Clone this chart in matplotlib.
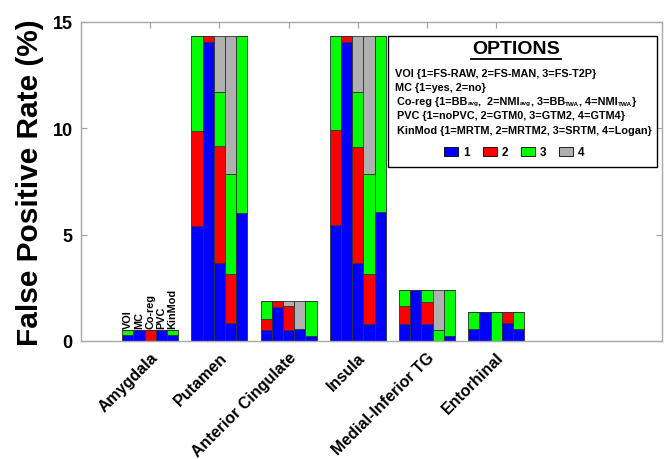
import matplotlib
matplotlib.use("Agg")
import matplotlib.pyplot as plt
import numpy as np
from matplotlib.patches import Rectangle

plt.rcParams['font.family'] = ['Liberation Sans', 'DejaVu Sans']
plt.rcParams['font.weight'] = 'bold'

regions = ["Amygdala", "Putamen", "Anterior Cingulate", "Insula",
           "Medial-Inferior TG", "Entorhinal"]
factors = ["VOI", "MC", "Co-reg", "PVC", "KinMod"]
option_labels = ["1", "2", "3", "4"]
option_colors = ["#0000FF", "#FF0000", "#00FF00", "#B0B0B0"]
yticks = [0, 5, 10, 15]

# rows: regions, columns: factors (VOI, MC, Co-reg, PVC, KinMod)
opt1 = [[0.28, 0.52, 0.00, 0.52, 0.28],
        [5.39, 14.04, 3.65, 0.83, 6.00],
        [0.53, 1.61, 0.53, 0.56, 0.25],
        [5.45, 14.07, 3.65, 0.80, 6.05],
        [0.80, 2.40, 0.80, 0.00, 0.25],
        [0.56, 1.38, 0.00, 0.83, 0.56]]
opt2 = [[0.00, 0.00, 0.52, 0.00, 0.00],
        [4.47, 0.29, 5.50, 2.30, 0.00],
        [0.50, 0.27, 1.10, 0.00, 0.00],
        [4.47, 0.26, 5.45, 2.33, 0.00],
        [0.83, 0.00, 1.05, 0.00, 0.00],
        [0.00, 0.00, 0.00, 0.55, 0.00]]
opt3 = [[0.24, 0.00, 0.00, 0.00, 0.24],
        [4.47, 0.00, 2.57, 4.71, 8.33],
        [0.85, 0.00, 0.00, 0.00, 1.63],
        [4.41, 0.00, 2.62, 4.71, 8.28],
        [0.77, 0.00, 0.55, 0.53, 2.15],
        [0.82, 0.00, 1.38, 0.00, 0.82]]
opt4 = [[0.00, 0.00, 0.00, 0.00, 0.00],
        [0.00, 0.00, 2.61, 6.49, 0.00],
        [0.00, 0.00, 0.25, 1.32, 0.00],
        [0.00, 0.00, 2.61, 6.49, 0.00],
        [0.00, 0.00, 0.00, 1.87, 0.00],
        [0.00, 0.00, 0.00, 0.00, 0.00]]

W, H = 671, 460
fig = plt.figure(figsize=(W / 100, H / 100), dpi=100)
ax = fig.add_axes([81 / W, 1 - 342 / H, (662 - 81) / W, (342 - 23) / H])

nf = len(factors)
group_w = 0.81
bw = group_w / nf
centers = np.arange(1, len(regions) + 1)
opts = [np.array(opt1), np.array(opt2), np.array(opt3), np.array(opt4)]

for j in range(nf):
    xs = centers - group_w / 2 + bw * (j + 0.5)
    bottom = np.zeros(len(regions))
    for k, o in enumerate(opts):
        vals = o[:, j]
        ax.bar(xs, vals, width=bw, bottom=bottom, color=option_colors[k],
               edgecolor='#303030', linewidth=0.6, zorder=2)
        bottom = bottom + vals
    # factor labels above first group
    ax.text(xs[0], bottom[0] + 0.08, factors[j], rotation=90, ha='center',
            va='bottom', fontsize=7.8, fontweight='bold')

ax.set_xlim(0, (662 - 81) / 69.2)
ax.set_ylim(0, 15)
ax.set_xticks(centers)
ax.set_xticklabels(regions, rotation=45, ha='right', rotation_mode='anchor',
                   fontsize=11.5, fontweight='bold')
ax.set_yticks(yticks)
ax.set_yticklabels([str(v) for v in yticks], fontsize=13, fontweight='bold')
ax.tick_params(axis='x', direction='in', color='#A0A0A0', top=True,
               length=4, pad=6)
ax.tick_params(axis='y', direction='in', color='#A0A0A0', right=True,
               length=4, pad=6)
for s in ax.spines.values():
    s.set_color('#A8A8A8')
    s.set_linewidth(1.0)
ax.set_ylabel('False Positive Rate (%)', fontsize=21.5, fontweight='bold',
              labelpad=6)

# Legend box (OPTIONS)
def fx(x):
    return x / W

def fy(y):
    return 1 - y / H

fig.patches.append(Rectangle((fx(388), fy(168)), fx(657) - fx(388),
                             fy(37) - fy(168), transform=fig.transFigure,
                             facecolor='white', edgecolor='black',
                             linewidth=1.0, zorder=5))
fig.text(fx(516), fy(50), 'OPTIONS', ha='center', va='center', fontsize=14,
         fontweight='bold', zorder=6)
fig.lines.append(plt.Line2D([fx(471), fx(561)], [fy(60), fy(60)],
                            transform=fig.transFigure, color='black',
                            linewidth=1.3, zorder=6))

main_fs = 7.8
sub_fs = 4.6
lines = [
    (395, 74, [('VOI {1=FS-RAW, 2=FS-MAN, 3=FS-T2P}', False)]),
    (395, 88, [('MC {1=yes, 2=no}', False)]),
    (397, 102, [('Co-reg {1=BB', False), ('avg', True), (',  2=NMI', False),
                ('avg', True), (', 3=BB', False), ('TWA', True),
                (', 4=NMI', False), ('TWA', True), ('}', False)]),
    (397, 116, [('PVC {1=noPVC, 2=GTM0, 3=GTM2, 4=GTM4}', False)]),
    (397, 131, [('KinMod {1=MRTM, 2=MRTM2, 3=SRTM, 4=Logan}', False)]),
]
renderer = fig.canvas.get_renderer()
for x, y, pieces in lines:
    cx = x
    for txt, is_sub in pieces:
        if is_sub:
            t = fig.text(fx(cx), fy(y + 2), txt, ha='left', va='center',
                         fontsize=sub_fs, fontweight='bold', zorder=6)
        else:
            t = fig.text(fx(cx), fy(y), txt, ha='left', va='center',
                         fontsize=main_fs, fontweight='bold', zorder=6)
        bb = t.get_window_extent(renderer=renderer)
        cx += bb.width

patch_x = [444, 483, 521, 559]
for k in range(4):
    fig.patches.append(Rectangle((fx(patch_x[k]), fy(157)), 14 / W, 9 / H,
                                 transform=fig.transFigure,
                                 facecolor=option_colors[k],
                                 edgecolor='black', linewidth=0.6, zorder=6))
    fig.text(fx(patch_x[k] + 19), fy(153), option_labels[k], ha='left',
             va='center', fontsize=8.5, fontweight='bold', zorder=6)

fig.savefig('out.png', dpi=100, facecolor='white')
